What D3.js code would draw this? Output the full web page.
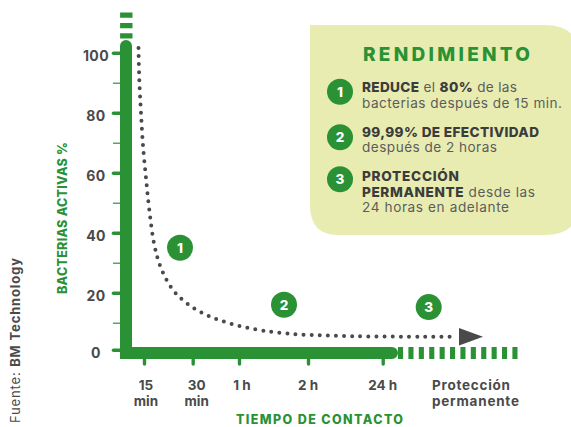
<!DOCTYPE html>
<html><head><meta charset="utf-8">
<script src="https://cdn.jsdelivr.net/npm/d3@7/dist/d3.min.js"></script>
<style>html,body{margin:0;background:#fff}svg{display:block}text{font-family:Inter,"Open Sans",sans-serif}</style>
</head><body><svg id="c" width="571" height="427"></svg>
<script>
const yMajorTicks=[1,20,40,60,80,100];
const yMinorTicks=[10,30,50,70,90];
const xTickPos=[24,72.7,119,188,262.7];
const xLabels=[["15","min"],["30","min"],["1 h"],["2 h"],["24 h"]];
const curveX=[18.5,19.3,21,23,26,29.3,34.3,41,53,70.3,92,123.3,164,220,334];
const curveY=[101.6,90.9,79.9,69.1,58.2,47.6,36,28.2,20.9,15.6,11.8,8.6,6.5,5.6,5.3];
const markers=[["1",60,35],["2",164,16],["3",308.7,15.2]];
const panelTitle="RENDIMIENTO";
const green="#2a9135",dark="#4a4a4a";
const svg=d3.select("#c");
const x=d3.scaleLinear().domain([0,400]).range([120,520]);
const y=d3.scaleLinear().domain([0,100]).range([352.7,52.7]);

// panel
svg.append("path").attr("fill","#e8ecb1")
 .attr("d","M310,25H545Q580,25 580,60V200Q580,235 545,235H338Q310,235 310,205Z");

// y axis
const ya=d3.axisLeft(y).tickValues(yMajorTicks).tickSize(8).tickPadding(6)
 .tickFormat(d=>d===1?"0":d);
const gy=svg.append("g").attr("transform","translate(120,0)").call(ya);
gy.select(".domain").remove();
gy.selectAll("line").attr("stroke",green).attr("stroke-width",3.6).attr("stroke-linecap","round").attr("x2",-6.5);
gy.selectAll("text").attr("x",-24).attr("dy",null).attr("y",7.5).attr("text-anchor","middle")
 .attr("fill",dark).style("font-size","14px").style("font-weight",700).style("letter-spacing","0.4px");
const ym=d3.axisLeft(y).tickValues(yMinorTicks).tickSize(7).tickFormat("");
const gm=svg.append("g").attr("transform","translate(120,0)").call(ym);
gm.select(".domain").remove();
gm.selectAll("line").attr("stroke",green).attr("stroke-width",1.2);

// x axis
const xa=d3.axisBottom(x).tickValues(xTickPos).tickSize(7).tickFormat("");
const gx=svg.append("g").attr("transform","translate(0,359)").call(xa);
gx.select(".domain").remove();
gx.selectAll("line").attr("stroke",green).attr("stroke-width",3.4).attr("stroke-linecap","round").attr("y2",5);

// main bars
svg.append("path").attr("fill","none").attr("stroke",green).attr("stroke-width",12).attr("stroke-linecap","round")
 .attr("d","M"+x(6)+","+y(102.2)+"V353H"+x(272));
svg.append("rect").attr("x",x(0)).attr("y",347).attr("width",14).attr("height",12).attr("fill",green);
// dashed extensions
svg.append("path").attr("fill","none").attr("stroke",green).attr("stroke-width",12).attr("stroke-dasharray","5.1 5.3")
 .attr("d","M"+x(278)+",353H"+x(398));
svg.append("path").attr("fill","none").attr("stroke",green).attr("stroke-width",12.4).attr("stroke-dasharray","5.3 5.1")
 .attr("d","M"+x(6.3)+","+y(104.7)+"V12");

// dotted curve
const pts=curveX.map((d,i)=>[d,curveY[i]]);
svg.append("path").attr("fill","none").attr("stroke",dark).attr("stroke-width",4).attr("stroke-linecap","round")
 .attr("stroke-dasharray","0 8.1").attr("d",d3.line().x(d=>x(d[0])).y(d=>y(d[1])).curve(d3.curveCatmullRom.alpha(0.5))(pts));
const tipY=y(5.3);
svg.append("path").attr("fill",dark).attr("d",`M${x(339)},${tipY-8.8}L${x(363)},${tipY}L${x(339)},${tipY+8.8}Z`);

// markers
function marker(px,py,t){
 svg.append("circle").attr("cx",px).attr("cy",py).attr("r",13).attr("fill",green);
 svg.append("text").attr("x",px).attr("y",py+5).attr("text-anchor","middle").attr("fill","#fff")
  .style("font-size","13.5px").style("font-weight",800).text(t);
}
markers.forEach(m=>marker(x(m[1]),y(m[2]),m[0]));

// x labels
const lab=(px,py,t,anchor,len)=>{const e=svg.append("text").attr("x",px).attr("y",py).attr("text-anchor",anchor||"middle").attr("fill",dark)
 .style("font-size","13.5px").style("font-weight",700).text(t);if(len)e.attr("textLength",len);return e;};
xLabels.forEach((l,i)=>{const cx=x(xTickPos[i])+(i<2?(i?4:2):i===2?3:0);
 l.forEach((t,j)=>lab(cx,390+16*j,t));});
lab(432,390,"Protección","start",78);
lab(432,406,"permanente","start",87);

// axis titles
svg.append("text").attr("transform","translate(67,218) rotate(-90)").attr("text-anchor","middle").attr("fill",green)
 .style("font-size","12.5px").style("font-weight",800).attr("textLength",152).text("BACTERIAS ACTIVAS %");
svg.append("text").attr("x",319.5).attr("y",424).attr("text-anchor","middle").attr("fill",green)
 .style("font-size","12.5px").style("font-weight",800).attr("textLength",167).text("TIEMPO DE CONTACTO");
const src=svg.append("text").attr("transform","translate(20,423) rotate(-90)").attr("fill",dark).style("font-size","13px").attr("textLength",165);
src.append("tspan").text("Fuente: ");
src.append("tspan").style("font-weight",700).text("BM Technology");

// panel text
svg.append("text").attr("x",363).attr("y",61).attr("fill",green).style("font-size","19px").style("font-weight",800)
 .attr("textLength",167).text(panelTitle);
const panelRows=[[340,91.7,"1"],[340,137.3,"2"],[340,179.3,"3"]];
panelRows.forEach(r=>marker(r[0],r[1],r[2]));
const rows=[
 [92,[["REDUCE",1],[" el ",0],["80%",1],[" de las",0]],155],
 [108,[["bacterias después de 15 min.",0]],200],
 [137,[["99,99% DE EFECTIVIDAD",1]],177],
 [151.7,[["después de 2 horas",0]],135],
 [180.7,[["PROTECCIÓN",1]],97],
 [196.7,[["PERMANENTE",1],[" desde las",0]],173],
 [212,[["24 horas en adelante",0]],147]];
rows.forEach(r=>{const t=svg.append("text").attr("x",362).attr("y",r[0]).style("font-size","13.6px").attr("textLength",r[2]);
 r[1].forEach(s=>t.append("tspan").attr("fill",s[1]?"#3c3c3c":"#5c5c5c").style("font-weight",s[1]?800:400).text(s[0]));});
</script></body></html>
